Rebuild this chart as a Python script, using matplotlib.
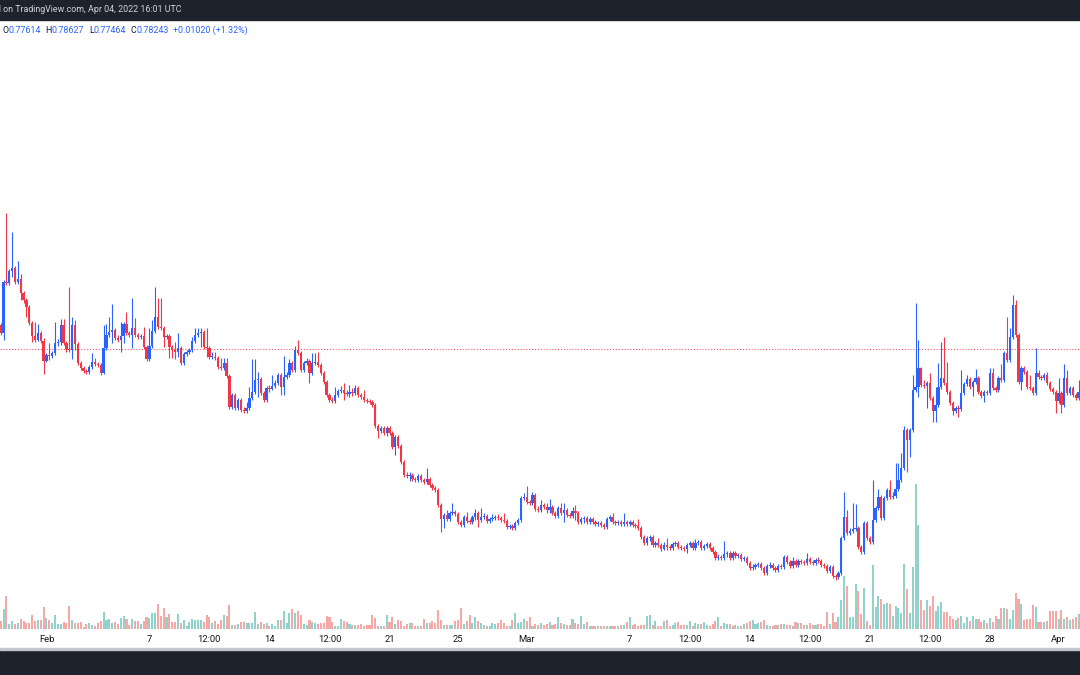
import matplotlib
matplotlib.use("Agg")
import matplotlib.pyplot as plt
from matplotlib.patches import Rectangle
from matplotlib.transforms import blended_transform_factory
import numpy as np
import pandas as pd

# ---------------- data (4h candles) ----------------
start_time = "2022-01-29 08:00"
bar_hours = 4
first_open = 0.806

closes = [0.798,0.849,0.848,0.860,0.863,0.849,0.852,0.838,0.831,0.824,
 0.808,0.795,0.791,0.798,0.790,0.770,0.776,0.775,0.778,0.788,
 0.789,0.806,0.788,0.782,0.781,0.806,0.787,0.768,0.763,0.760,
 0.759,0.764,0.769,0.767,0.766,0.758,0.783,0.796,0.799,0.801,
 0.793,0.791,0.795,0.807,0.798,0.796,0.803,0.796,0.794,0.795,
 0.784,0.772,0.785,0.800,0.814,0.804,0.803,0.794,0.795,0.784,
 0.781,0.779,0.783,0.768,0.777,0.779,0.781,0.790,0.796,0.798,
 0.799,0.784,0.783,0.774,0.774,0.773,0.764,0.763,0.768,0.755,
 0.724,0.736,0.723,0.731,0.721,0.720,0.723,0.733,0.739,0.751,
 0.752,0.738,0.731,0.743,0.742,0.745,0.748,0.756,0.744,0.754,
 0.756,0.768,0.761,0.781,0.778,0.761,0.768,0.770,0.758,0.768,
 0.769,0.766,0.758,0.749,0.736,0.731,0.730,0.736,0.740,0.741,
 0.738,0.737,0.739,0.738,0.743,0.736,0.734,0.731,0.730,0.729,
 0.726,0.705,0.700,0.703,0.698,0.703,0.698,0.684,0.694,0.685,
 0.669,0.656,0.655,0.656,0.652,0.651,0.655,0.651,0.649,0.652,
 0.646,0.643,0.641,0.626,0.612,0.616,0.612,0.618,0.619,0.617,
 0.609,0.606,0.614,0.610,0.609,0.614,0.618,0.611,0.614,0.615,
 0.610,0.612,0.613,0.614,0.613,0.611,0.610,0.604,0.605,0.603,
 0.608,0.611,0.633,0.634,0.629,0.628,0.636,0.622,0.621,0.626,
 0.624,0.621,0.624,0.618,0.615,0.623,0.618,0.621,0.616,0.615,
 0.620,0.618,0.609,0.612,0.613,0.609,0.612,0.609,0.607,0.608,
 0.606,0.604,0.612,0.614,0.609,0.608,0.609,0.607,0.609,0.607,
 0.609,0.606,0.605,0.603,0.594,0.588,0.593,0.594,0.586,0.588,
 0.586,0.582,0.586,0.584,0.583,0.587,0.588,0.584,0.583,0.582,
 0.586,0.588,0.583,0.588,0.589,0.583,0.585,0.587,0.583,0.579,
 0.573,0.574,0.573,0.577,0.578,0.573,0.578,0.575,0.576,0.572,
 0.573,0.568,0.563,0.564,0.566,0.567,0.563,0.558,0.565,0.566,
 0.563,0.561,0.565,0.564,0.574,0.569,0.565,0.570,0.566,0.570,
 0.569,0.568,0.572,0.569,0.568,0.571,0.570,0.566,0.565,0.560,
 0.564,0.555,0.554,0.558,0.593,0.614,0.598,0.600,0.602,0.603,
 0.584,0.579,0.608,0.593,0.589,0.611,0.623,0.634,0.613,0.633,
 0.641,0.634,0.635,0.642,0.651,0.663,0.701,0.691,0.701,0.741,
 0.744,0.763,0.746,0.745,0.748,0.733,0.720,0.726,0.744,0.753,
 0.748,0.739,0.728,0.720,0.723,0.722,0.738,0.747,0.752,0.744,
 0.749,0.753,0.739,0.735,0.739,0.738,0.758,0.743,0.741,0.753,
 0.751,0.778,0.771,0.794,0.826,0.796,0.749,0.763,0.759,0.744,
 0.743,0.738,0.758,0.754,0.753,0.756,0.748,0.742,0.739,0.730,
 0.738,0.726,0.753,0.738,0.743,0.736,0.733,0.739]

highs = [0.808,0.851,0.918,0.862,0.899,0.865,0.870,0.857,0.840,0.833,
 0.826,0.810,0.809,0.807,0.800,0.793,0.778,0.788,0.780,0.809,
 0.792,0.812,0.812,0.790,0.844,0.814,0.811,0.789,0.770,0.765,
 0.762,0.766,0.778,0.773,0.769,0.768,0.806,0.807,0.814,0.827,
 0.803,0.796,0.809,0.809,0.819,0.800,0.833,0.813,0.798,0.797,
 0.804,0.786,0.803,0.811,0.844,0.833,0.833,0.805,0.797,0.797,
 0.786,0.789,0.798,0.785,0.779,0.781,0.783,0.794,0.803,0.803,
 0.803,0.801,0.803,0.785,0.779,0.779,0.775,0.773,0.773,0.773,
 0.757,0.738,0.738,0.733,0.733,0.724,0.729,0.744,0.772,0.772,
 0.759,0.754,0.740,0.745,0.746,0.756,0.751,0.758,0.758,0.775,
 0.759,0.772,0.770,0.785,0.791,0.780,0.770,0.773,0.772,0.778,
 0.778,0.779,0.768,0.760,0.751,0.738,0.734,0.744,0.742,0.745,
 0.748,0.741,0.746,0.743,0.746,0.745,0.738,0.741,0.733,0.732,
 0.731,0.728,0.707,0.705,0.705,0.705,0.705,0.700,0.696,0.696,
 0.687,0.671,0.659,0.659,0.658,0.654,0.657,0.657,0.653,0.663,
 0.654,0.648,0.645,0.643,0.628,0.618,0.621,0.620,0.628,0.621,
 0.619,0.611,0.616,0.619,0.612,0.616,0.622,0.620,0.623,0.618,
 0.617,0.614,0.617,0.616,0.617,0.615,0.618,0.612,0.607,0.607,
 0.610,0.613,0.635,0.638,0.645,0.631,0.639,0.638,0.625,0.631,
 0.628,0.628,0.632,0.626,0.620,0.625,0.628,0.628,0.623,0.618,
 0.624,0.626,0.620,0.614,0.615,0.615,0.614,0.614,0.611,0.610,
 0.610,0.608,0.614,0.616,0.618,0.611,0.611,0.611,0.618,0.611,
 0.611,0.611,0.608,0.612,0.605,0.596,0.595,0.596,0.596,0.590,
 0.593,0.588,0.589,0.593,0.586,0.589,0.590,0.590,0.586,0.585,
 0.588,0.590,0.590,0.592,0.591,0.591,0.587,0.589,0.589,0.585,
 0.581,0.577,0.576,0.590,0.580,0.580,0.580,0.580,0.578,0.578,
 0.575,0.575,0.570,0.567,0.568,0.569,0.569,0.565,0.567,0.569,
 0.568,0.565,0.567,0.567,0.576,0.576,0.571,0.574,0.572,0.572,
 0.572,0.571,0.578,0.574,0.571,0.573,0.574,0.572,0.568,0.567,
 0.566,0.566,0.557,0.560,0.595,0.639,0.621,0.603,0.628,0.627,
 0.605,0.586,0.610,0.610,0.595,0.651,0.625,0.642,0.636,0.635,
 0.643,0.651,0.639,0.668,0.668,0.678,0.705,0.703,0.703,0.756,
 0.828,0.791,0.764,0.751,0.750,0.758,0.735,0.744,0.768,0.789,
 0.794,0.769,0.741,0.730,0.725,0.726,0.761,0.749,0.756,0.754,
 0.751,0.762,0.755,0.741,0.741,0.741,0.763,0.763,0.745,0.755,
 0.767,0.780,0.814,0.803,0.836,0.831,0.798,0.765,0.765,0.761,
 0.756,0.745,0.783,0.761,0.756,0.758,0.759,0.750,0.744,0.741,
 0.753,0.740,0.767,0.761,0.745,0.745,0.738,0.751]

lows = [0.796,0.791,0.846,0.846,0.854,0.847,0.847,0.831,0.828,0.814,
 0.806,0.789,0.789,0.790,0.788,0.757,0.769,0.771,0.773,0.776,
 0.785,0.786,0.786,0.779,0.779,0.772,0.781,0.766,0.761,0.758,
 0.757,0.757,0.762,0.765,0.764,0.756,0.757,0.781,0.794,0.788,
 0.791,0.789,0.779,0.788,0.796,0.794,0.783,0.794,0.792,0.792,
 0.782,0.770,0.770,0.783,0.798,0.802,0.801,0.784,0.792,0.773,
 0.773,0.772,0.774,0.766,0.766,0.775,0.777,0.779,0.788,0.794,
 0.784,0.782,0.774,0.772,0.772,0.771,0.762,0.761,0.761,0.753,
 0.722,0.722,0.721,0.721,0.719,0.718,0.718,0.721,0.731,0.737,
 0.734,0.736,0.729,0.729,0.739,0.741,0.743,0.746,0.736,0.736,
 0.752,0.754,0.759,0.759,0.776,0.759,0.759,0.766,0.748,0.756,
 0.766,0.764,0.756,0.747,0.734,0.729,0.728,0.728,0.734,0.738,
 0.731,0.735,0.734,0.735,0.736,0.734,0.732,0.729,0.728,0.727,
 0.724,0.703,0.693,0.698,0.696,0.695,0.696,0.682,0.676,0.683,
 0.667,0.654,0.653,0.650,0.650,0.649,0.649,0.649,0.647,0.647,
 0.644,0.641,0.639,0.624,0.599,0.603,0.610,0.610,0.616,0.615,
 0.607,0.604,0.604,0.608,0.607,0.607,0.611,0.604,0.609,0.612,
 0.608,0.608,0.610,0.611,0.611,0.609,0.608,0.602,0.602,0.601,
 0.601,0.606,0.609,0.631,0.627,0.626,0.626,0.620,0.619,0.619,
 0.622,0.618,0.618,0.616,0.613,0.613,0.616,0.609,0.614,0.613,
 0.613,0.611,0.607,0.607,0.608,0.607,0.607,0.607,0.605,0.605,
 0.604,0.602,0.602,0.610,0.607,0.606,0.606,0.605,0.605,0.605,
 0.605,0.604,0.603,0.601,0.592,0.586,0.586,0.590,0.584,0.584,
 0.584,0.580,0.581,0.581,0.581,0.581,0.585,0.582,0.581,0.580,
 0.578,0.584,0.581,0.581,0.586,0.581,0.581,0.583,0.581,0.577,
 0.571,0.571,0.571,0.571,0.574,0.571,0.571,0.573,0.573,0.570,
 0.570,0.566,0.561,0.561,0.562,0.564,0.561,0.556,0.556,0.563,
 0.561,0.559,0.559,0.562,0.562,0.567,0.563,0.563,0.564,0.564,
 0.567,0.566,0.566,0.567,0.566,0.566,0.568,0.564,0.563,0.558,
 0.558,0.553,0.551,0.552,0.556,0.591,0.596,0.596,0.598,0.600,
 0.582,0.577,0.577,0.591,0.587,0.587,0.609,0.621,0.611,0.611,
 0.631,0.632,0.632,0.633,0.640,0.649,0.661,0.659,0.674,0.699,
 0.739,0.734,0.744,0.743,0.723,0.731,0.709,0.709,0.724,0.742,
 0.746,0.737,0.726,0.716,0.718,0.714,0.720,0.736,0.745,0.742,
 0.735,0.747,0.737,0.733,0.729,0.736,0.736,0.741,0.739,0.739,
 0.749,0.749,0.769,0.769,0.792,0.794,0.747,0.741,0.757,0.742,
 0.741,0.736,0.736,0.752,0.751,0.751,0.746,0.740,0.737,0.718,
 0.728,0.718,0.724,0.736,0.736,0.734,0.731,0.731]

volumes = [8,20,33,5,8,5,6,10,8,6,6,14,8,9,9,22,11,9,6,14,5,5,7,6,23,9,6,6,7,2,
 5,6,4,3,6,8,17,9,10,6,7,5,11,13,10,4,10,8,8,5,8,12,11,16,16,25,13,21,12,15,7,7,15,
 6,9,
 3,7,10,9,9,9,7,14,12,6, 8,5,9,14,13,24,4,4,5,7, 7,6,6,6,17,5,7,5,6,3,
 5,3,9,9,18,6,16,20,16,18, 14,5,4,9,7,6,5,6,6,13, 12,7,3,3,10,8,7,5,4,4,
 4,5,3,4,4,14,11,3,3,3, 14,7,12,5,9,8,3,5,6,6, 3,3,3,10,6,6,8,6,19,9,
 4,4,4,4,8,9,21,5,8,14, 6,12,8,6,4,3,3,6,5,6, 9,6,3,3,9,16,6,7,10,8, 12,3,
 5,4,6,4,5,
 7,4,5,12,6,5,4,4,10,6, 5,13,5,7,3,3,3,3,3,3, 3,3,3,3,3,4,4,7,12,4,
 5,3,4,4,13,14,4,8,3,3, 8,9,3,4,6,7,4,4,4,8, 3,6,5,5,7,4,3,5,8,12,
 3,6,5,5,3,4,3,3,5,6, 8,9,5,6,7,9,4,3,3,4, 4,5,5,4,4,3,7,6,6,4,
 4,6,4,4,5,5,3,17,5,16, 7,12,29,53,43,12,12,45,38,15, 41,8,4,64,22,33,30,25,26,25,
 13,23,21,16,65,40,16,62,145,104, 29,19,29,23,33,18,23,27,17,17, 13,10,9,11,13,6,12,8,13,10,
 10,7,9,6,11,7,13,10,21,21, 20,10,19,36,30,25,9,10,10,24, 22,7,7,7,8,18,18,18,10,19,
 10,12,9,10,12,15]

tick_times = ["2022-02-01 00:00", "2022-02-07 00:00", "2022-02-10 12:00", "2022-02-14 00:00",
              "2022-02-17 12:00", "2022-02-21 00:00", "2022-02-25 00:00", "2022-03-01 00:00",
              "2022-03-07 00:00", "2022-03-10 12:00", "2022-03-14 00:00", "2022-03-17 12:00",
              "2022-03-21 00:00", "2022-03-24 12:00", "2022-03-28 00:00", "2022-04-01 00:00"]
tick_labels = ["Feb", "7", "12:00", "14", "12:00", "21", "25", "Mar",
               "7", "12:00", "14", "12:00", "21", "12:00", "28", "Apr"]

last_price = 0.78243
header_text = "d on TradingView.com, Apr 04, 2022 16:01 UTC"
ohlc_names = ["O", "H", "L", "C"]
ohlc_values = ["0.77614", "0.78627", "0.77464", "0.78243"]
change_text = "+0.01020 (+1.32%)"

# ---------------- style ----------------
W, H = 1080, 675
UP = "#2962ff"
DN = "#f23645"
VOL_UP = (38/255, 166/255, 154/255, 0.5)
VOL_DN = (239/255, 83/255, 80/255, 0.5)
DARK = "#1e222d"
FONT = ["Roboto", "DejaVu Sans"]

plt.rcParams["font.family"] = FONT

fig = plt.figure(figsize=(W / 100, H / 100), dpi=100)
fig.patch.set_facecolor("white")

def fy(px):
    return 1 - px / H

# dark bands
fig.patches.append(Rectangle((0, fy(20)), 1, 20 / H, transform=fig.transFigure,
                             color=DARK, zorder=0))
fig.patches.append(Rectangle((0, 0), 1, fy(649), transform=fig.transFigure,
                             color=DARK, zorder=0))
fig.patches.append(Rectangle((0, fy(649.5)), 1, 1.8 / H, transform=fig.transFigure,
                             color="#c3c6ce", zorder=0))

rect = [0, fy(629), 1, (629 - 20) / H]
n = len(closes)
idx = np.arange(n)
c = np.array(closes)
o = np.array([first_open] + closes[:-1])
hi = np.maximum(np.array(highs), np.maximum(o, c))
lo = np.minimum(np.array(lows), np.minimum(o, c))
up = c >= o

spacing_px = 2.859
first_px = 0.7
xlim = (-first_px / spacing_px, (W - first_px) / spacing_px)

# volume axes
axv = fig.add_axes(rect)
axv.set_zorder(1)
axv.patch.set_alpha(0)
axv.bar(idx, volumes, width=0.72, color=[VOL_UP if u else VOL_DN for u in up],
        linewidth=0)
axv.set_xlim(*xlim)
axv.set_ylim(0, 609)
axv.axis("off")

# price axes
ax = fig.add_axes(rect)
ax.set_zorder(2)
ax.patch.set_visible(False)
ax.set_xlim(*xlim)
ax.set_ylim(0.502, 1.111)
ax.axis("off")

ax.axhline(last_price, color=DN, linewidth=0.8, linestyle=(0, (1, 1.6)),
           alpha=0.8, zorder=1)
cols = np.where(up, UP, DN)
ax.vlines(idx, lo, hi, colors=cols, linewidth=0.8, zorder=2)
body_h = np.maximum(np.abs(c - o), 0.0010)
ax.bar(idx, body_h, bottom=np.minimum(o, c), width=0.8, color=cols,
       linewidth=0, zorder=3)

# time axis labels
t0 = pd.Timestamp(start_time)
tick_idx = (pd.to_datetime(tick_times, format="%Y-%m-%d %H:%M") - t0) / pd.Timedelta(hours=bar_hours)
trans = blended_transform_factory(ax.transData, fig.transFigure)
for ti, tl in zip(tick_idx, tick_labels):
    ax.text(ti, fy(639), tl, transform=trans, ha="center", va="center",
            fontsize=6.8, color="#131722", clip_on=False)

# header (starts mid-word, as in the cropped screenshot)
fig.text(-4 / W, fy(10), header_text, ha="left", va="center", fontsize=6.4,
         color="#d1d4dc")

# OHLC legend row
fig.canvas.draw()
renderer = fig.canvas.get_renderer()
xpix = 2.7
ypos = fy(30.5)
for name, val in zip(ohlc_names, ohlc_values):
    t = fig.text(xpix / W, ypos, name, ha="left", va="center", fontsize=6.4,
                 color="#131722")
    xpix += t.get_window_extent(renderer).width
    t = fig.text(xpix / W, ypos, val, ha="left", va="center", fontsize=6.4,
                 color=UP)
    xpix += t.get_window_extent(renderer).width + 4.5
fig.text(xpix / W, ypos, change_text, ha="left", va="center", fontsize=6.4,
         color=UP)

fig.savefig("out.png", dpi=100, facecolor="white")
